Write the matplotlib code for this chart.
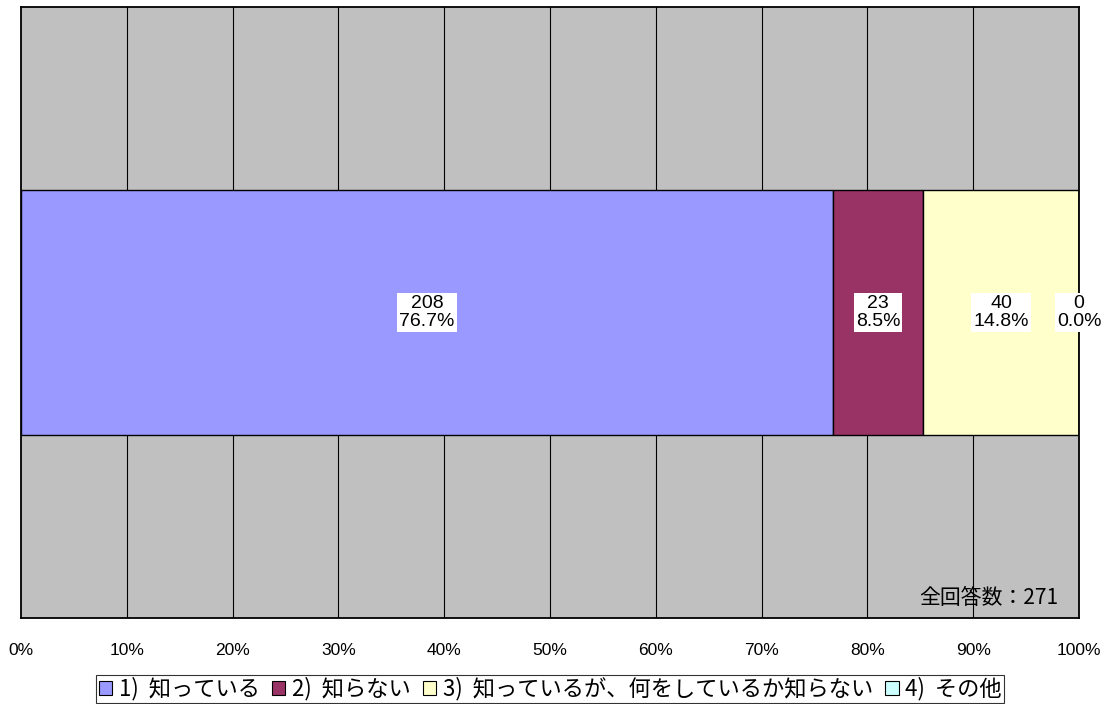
import matplotlib
matplotlib.use('Agg')
from matplotlib import pyplot as plt
from matplotlib.patches import Patch
import numpy as np

plt.rcParams['font.family'] = ['Liberation Sans', 'Noto Sans CJK JP', 'DejaVu Sans']

# data
categories = ['1)  知っている', '2)  知らない', '3)  知っているが、何をしているか知らない', '4)  その他']
counts = [208, 23, 40, 0]
pct_labels = [76.7, 8.5, 14.8, 0.0]
total = 271
colors = ['#9999FF', '#993366', '#FFFFCC', '#CCFFFF']
ticks = np.arange(0, 101, 10)

pct = [100.0 * c / total for c in counts]

fig = plt.figure(figsize=(11.14, 7.04), dpi=100)
ax = fig.add_axes([0.0189, 0.1222, 0.9497, 0.8679])
ax.set_facecolor('#C0C0C0')

# grid lines behind the bar
for t in ticks[1:-1]:
    ax.axvline(t, color='black', lw=0.8, zorder=1)

left = 0
for i in range(len(counts)):
    ax.barh(0, pct[i], left=left, height=0.4, color=colors[i],
            edgecolor='black', linewidth=1.0, zorder=2)
    cx = left + pct[i] / 2.0
    ax.text(cx, 0, '%d\n%.1f%%' % (counts[i], pct_labels[i]), ha='center', va='center',
            fontsize=14, linespacing=1.05, zorder=3,
            family=['Liberation Sans', 'DejaVu Sans'],
            bbox=dict(facecolor='white', edgecolor='none', pad=1.5))
    left += pct[i]

ax.set_xlim(0, 100)
ax.set_ylim(-0.5, 0.5)
ax.set_yticks([])
ax.set_xticks(ticks)
ax.set_xticklabels(['%d%%' % t for t in ticks], fontsize=12.5,
                   family=['Liberation Sans Narrow', 'Liberation Sans'])
ax.tick_params(axis='x', length=0, pad=18)
for s in ax.spines.values():
    s.set_linewidth(1.3)

ax.text(98.0, -0.467, '全回答数：271', ha='right', va='center', fontsize=15,
        family=['Noto Sans CJK JP', 'DejaVu Sans'])

handles = [Patch(facecolor=c, edgecolor='black', linewidth=0.8) for c in colors]
leg = fig.legend(handles, categories, loc='center', bbox_to_anchor=(0.494, 0.0215),
                 ncol=4, frameon=True, fancybox=False,
                 handlelength=0.6, handleheight=0.6, handletextpad=0.3,
                 columnspacing=0.55, borderpad=0.1, borderaxespad=0,
                 prop={'family': ['Noto Sans CJK JP', 'DejaVu Sans'], 'size': 16})
leg.get_frame().set_edgecolor('black')
leg.get_frame().set_linewidth(0.8)

plt.savefig('out.png', dpi=100)
